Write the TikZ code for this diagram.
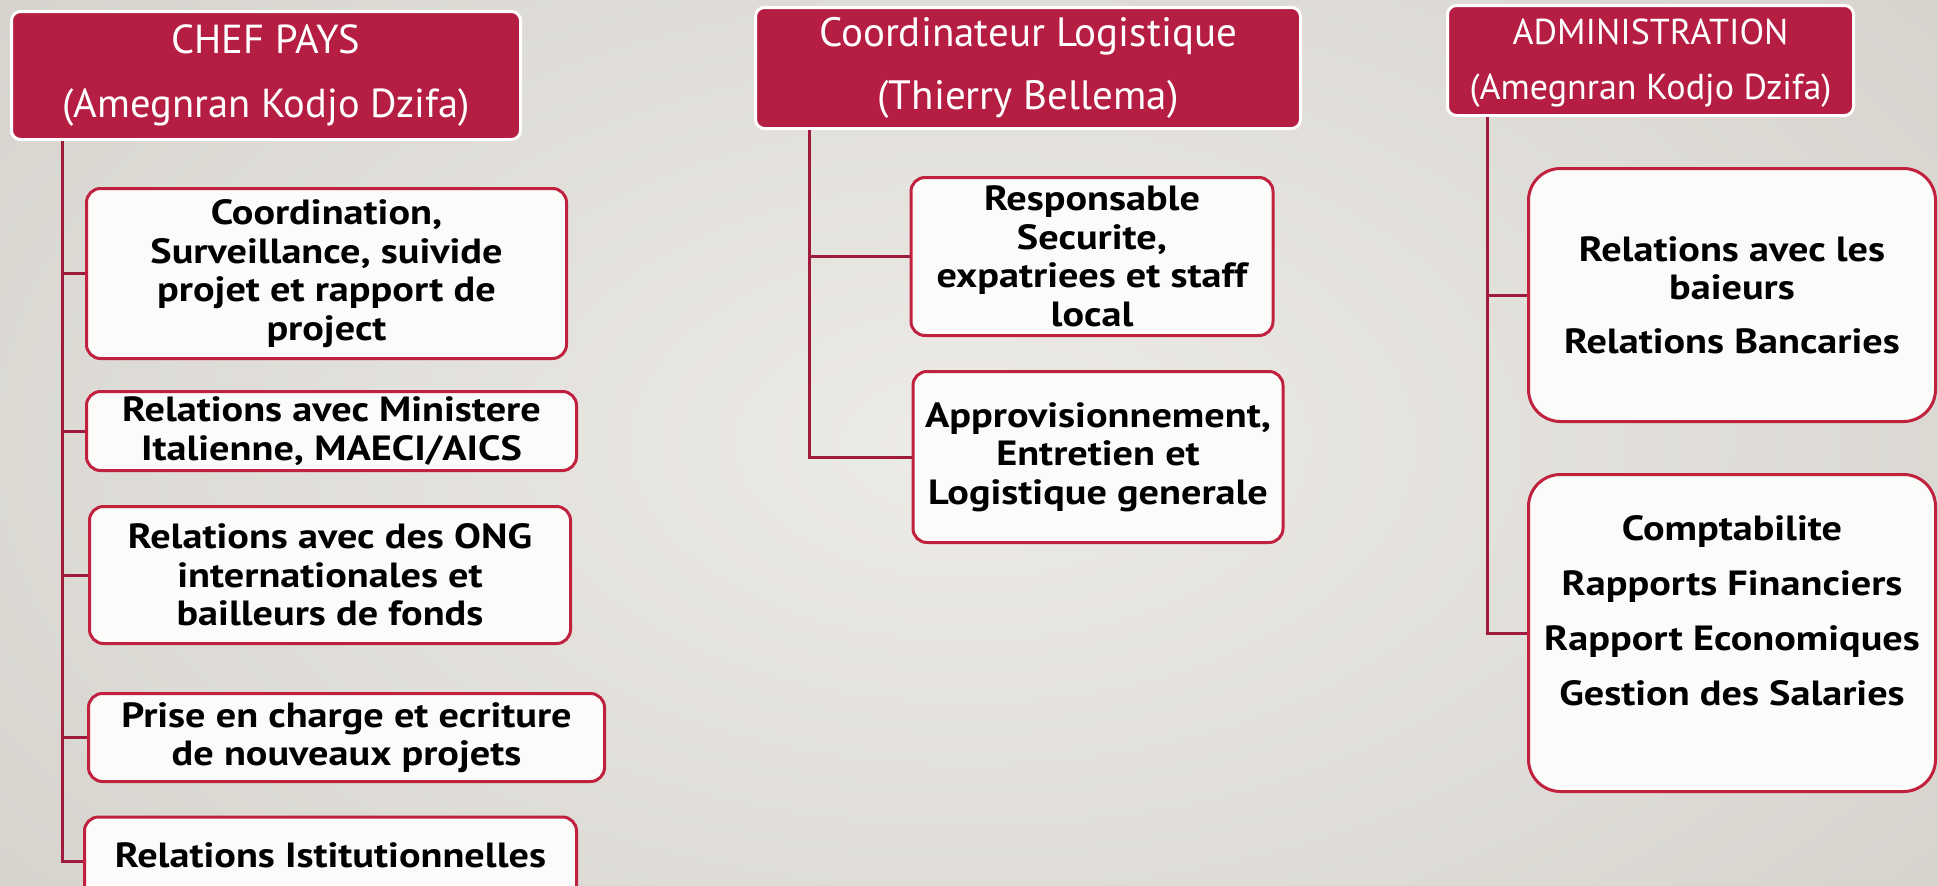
\documentclass[tikz,border=0pt]{standalone}
\usepackage{fontspec}
\setmainfont{PT Sans}
\newfontfamily\itemfont[FakeStretch=1.15]{PT Sans}
\definecolor{hdr}{HTML}{B51E42}
\definecolor{bord}{HTML}{C0213F}
\definecolor{conn}{HTML}{9E1B3C}
\definecolor{boxfill}{HTML}{FBFBFA}
\definecolor{bgin}{HTML}{EDEBE7}
\definecolor{bgout}{HTML}{D6D3CD}
\tikzset{
  hdrbox/.style={rectangle, rounded corners=9pt, fill=hdr, draw=white, line width=3pt,
    text=white, align=center, inner sep=0pt},
  itembox/.style={rectangle, rounded corners=14pt, fill=boxfill, draw=bord, line width=3pt,
    align=center, inner sep=0pt, font=\itemfont\bfseries\fontsize{35}{38.5}\selectfont},
  bigbox/.style={itembox, rounded corners=32pt, font=\itemfont\bfseries\fontsize{35}{38}\selectfont},
  link/.style={draw=conn, line width=3pt}
}
\begin{document}
\begin{tikzpicture}[x=1pt,y=-1pt]
\useasboundingbox (0,0) rectangle (1938,886);
\clip (0,0) rectangle (1938,886);
\shade[inner color=bgin, outer color=bgout] (-300,-300) rectangle (2238,1186);

% CHEF PAYS column
\node[hdrbox, minimum width=509pt, minimum height=128pt,
      font=\fontsize{40.5}{64}\selectfont] (chef) at (266,75.5)
  {CHEF PAYS\\(Amegnran Kodjo Dzifa)};
\node[itembox, minimum width=480pt, minimum height=170pt] (a) at (326.5,273.5)
  {Coordination,\\Surveillance, suivide\\projet et rapport de\\project};
\node[itembox, minimum width=490pt, minimum height=79pt] (b) at (331.5,431)
  {Relations avec Ministere\\Italienne, MAECI/AICS};
\node[itembox, minimum width=481pt, minimum height=137pt] (c) at (330,575)
  {Relations avec des ONG\\internationales et\\bailleurs de fonds};
\node[itembox, minimum width=516pt, minimum height=88pt] (d) at (346.5,737.5)
  {Prise en charge et ecriture\\de nouveaux projets};
\node[itembox, minimum width=492pt, minimum height=88pt, text depth=12pt] (e) at (330.5,861)
  {Relations Istitutionnelles};

\coordinate (chefroot) at ([xshift=52pt]chef.south west);
\draw[link] (chefroot) |- (a.west);
\draw[link] (chefroot) |- (b.west);
\draw[link] (chefroot) |- (c.west);
\draw[link] (chefroot) |- (d.west);
\draw[link] (chefroot) |- (e.west);

% Coordinateur Logistique column
\node[hdrbox, minimum width=545pt, minimum height=121pt,
      font=\fontsize{41}{62.5}\selectfont] (coord) at (1028,68)
  {Coordinateur Logistique\\(Thierry Bellema)};
\node[itembox, minimum width=362pt, minimum height=158pt] (f) at (1092,256.5)
  {Responsable\\Securite,\\expatriees et staff\\local};
\node[itembox, minimum width=370pt, minimum height=171pt] (g) at (1098,457)
  {Approvisionnement,\\Entretien et\\Logistique generale};

\coordinate (coordroot) at ([xshift=55pt]coord.south west);
\draw[link] (coordroot) |- (f.west);
\draw[link] (coordroot) |- (g.west);

% ADMINISTRATION column
\node[hdrbox, minimum width=406pt, minimum height=110pt, text depth=3pt,
      font=\fontsize{36}{55}\selectfont] (admin) at (1650.5,60.5)
  {ADMINISTRATION\\(Amegnran Kodjo Dzifa)};
\node[bigbox, minimum width=407pt, minimum height=253pt] (h) at (1732,295)
  {Relations avec les\\baieurs\\[16pt]Relations Bancaries};
\node[bigbox, minimum width=407pt, minimum height=317pt, text depth=46pt] (i) at (1732,633)
  {Comptabilite\\[17pt]Rapports Financiers\\[17pt]Rapport Economiques\\[17pt]Gestion des Salaries};

\coordinate (adminroot) at ([xshift=41pt]admin.south west);
\draw[link] (adminroot) |- (h.west);
\draw[link] (adminroot) |- (i.west);
\end{tikzpicture}
\end{document}
